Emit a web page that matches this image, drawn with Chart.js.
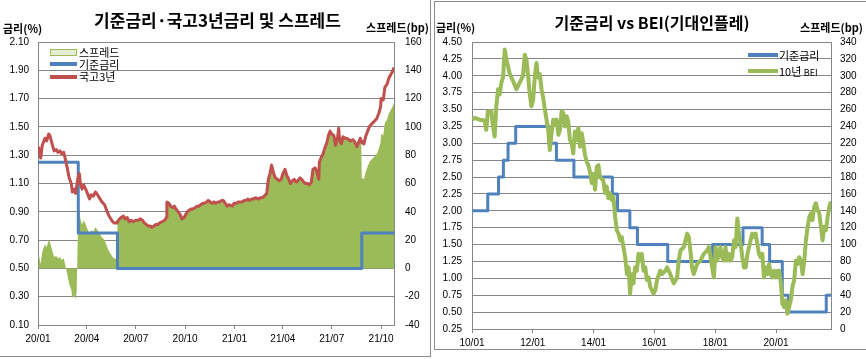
<!DOCTYPE html>
<html><head><meta charset="utf-8">
<script src="https://cdn.jsdelivr.net/npm/chart.js@4.4.0/dist/chart.umd.min.js"></script>
<style>
body{margin:0;width:866px;height:359px;position:relative;background:#fff;overflow:hidden;font-family:"Noto Sans CJK KR","Liberation Sans",sans-serif;}
.abs{position:absolute;white-space:nowrap;color:#000;}
.title{font-weight:bold;line-height:22px;}
.unit{font-weight:bold;font-size:11px;line-height:14px;}
.leg{font-size:11px;line-height:14px;}
.ln{position:absolute;background:#8c8c8c;}
canvas{position:absolute;}
</style></head><body>
<div class="ln" style="left:430px;top:0;width:1px;height:357px"></div>
<div class="ln" style="left:0;top:356px;width:431px;height:1px"></div>
<div class="ln" style="left:434px;top:1px;width:1px;height:349px"></div>
<div class="ln" style="left:434px;top:1px;width:432px;height:1px"></div>
<div class="ln" style="left:434px;top:349px;width:432px;height:1px"></div>

<canvas id="c1" width="430" height="356" style="left:0;top:0;width:430px;height:356px"></canvas>
<canvas id="c2" width="431" height="348" style="left:435px;top:1px;width:431px;height:348px"></canvas>

<div class="abs title" style="left:0;width:435px;text-align:center;top:9px;font-size:17px">기준금리·국고3년금리 및 스프레드</div>
<div class="abs unit" style="left:3px;top:21px">금리(%)</div>
<div class="abs unit" style="right:437px;top:20px">스프레드(bp)</div>

<div class="abs" style="left:50px;top:49px;width:25px;height:5px;background:#e4ecd2;border:1px solid #9BBB59"></div>
<div class="abs" style="left:50px;top:62px;width:27px;height:4px;background:#4F81BD"></div>
<div class="abs" style="left:50px;top:75px;width:27px;height:4px;background:#C0504D"></div>
<div class="abs leg" style="left:79px;top:45px">스프레드</div>
<div class="abs leg" style="left:79px;top:57px">기준금리</div>
<div class="abs leg" style="left:79px;top:69px">국고3년</div>

<div class="abs title" style="left:434px;width:436px;text-align:center;top:11px;font-size:16px">기준금리 vs BEI(기대인플레)</div>
<div class="abs unit" style="left:436px;top:20px">금리(%)</div>
<div class="abs unit" style="right:3px;top:20px">스프레드(bp)</div>
<div class="abs" style="left:748px;top:53px;width:30px;height:4px;background:#4F81BD"></div>
<div class="abs" style="left:748px;top:69px;width:30px;height:4px;background:#9BBB59"></div>
<div class="abs leg" style="left:779px;top:48px">기준금리</div>
<div class="abs leg" style="left:779px;top:64px">10년 <span style="font-size:9px">BEI</span></div>

<script>
// ===== Left chart data =====
const gov3Dates = ["2020-01-02","2020-01-06","2020-01-09","2020-01-14","2020-01-17","2020-01-21","2020-01-23","2020-01-28","2020-01-31","2020-02-04","2020-02-07","2020-02-11","2020-02-14","2020-02-18","2020-02-21","2020-02-25","2020-02-28","2020-03-03","2020-03-05","2020-03-09","2020-03-11","2020-03-13","2020-03-16","2020-03-18","2020-03-20","2020-03-23","2020-03-26","2020-03-30","2020-04-02","2020-04-06","2020-04-09","2020-04-13","2020-04-17","2020-04-21","2020-04-24","2020-04-29","2020-05-04","2020-05-07","2020-05-11","2020-05-14","2020-05-19","2020-05-22","2020-05-27","2020-05-28","2020-06-01","2020-06-04","2020-06-08","2020-06-11","2020-06-15","2020-06-19","2020-06-23","2020-06-26","2020-07-01","2020-07-06","2020-07-09","2020-07-14","2020-07-17","2020-07-21","2020-07-24","2020-07-28","2020-07-31","2020-08-04","2020-08-07","2020-08-11","2020-08-14","2020-08-19","2020-08-24","2020-08-27","2020-08-28","2020-09-01","2020-09-04","2020-09-08","2020-09-11","2020-09-14","2020-09-18","2020-09-22","2020-09-25","2020-09-29","2020-10-05","2020-10-08","2020-10-12","2020-10-15","2020-10-20","2020-10-23","2020-10-27","2020-10-30","2020-11-03","2020-11-06","2020-11-10","2020-11-13","2020-11-17","2020-11-20","2020-11-24","2020-11-27","2020-12-01","2020-12-04","2020-12-08","2020-12-11","2020-12-15","2020-12-18","2020-12-22","2020-12-28","2020-12-31","2021-01-05","2021-01-08","2021-01-12","2021-01-15","2021-01-19","2021-01-22","2021-01-26","2021-01-29","2021-02-02","2021-02-05","2021-02-09","2021-02-15","2021-02-18","2021-02-22","2021-02-25","2021-03-02","2021-03-05","2021-03-08","2021-03-11","2021-03-15","2021-03-18","2021-03-22","2021-03-25","2021-03-29","2021-04-01","2021-04-05","2021-04-08","2021-04-12","2021-04-15","2021-04-19","2021-04-22","2021-04-26","2021-04-29","2021-05-03","2021-05-06","2021-05-10","2021-05-13","2021-05-17","2021-05-20","2021-05-24","2021-05-27","2021-05-31","2021-06-03","2021-06-07","2021-06-08","2021-06-11","2021-06-15","2021-06-18","2021-06-22","2021-06-25","2021-06-28","2021-07-01","2021-07-05","2021-07-08","2021-07-12","2021-07-14","2021-07-16","2021-07-19","2021-07-22","2021-07-26","2021-07-29","2021-08-02","2021-08-05","2021-08-09","2021-08-12","2021-08-17","2021-08-20","2021-08-23","2021-08-25","2021-08-26","2021-08-30","2021-09-02","2021-09-06","2021-09-09","2021-09-13","2021-09-16","2021-09-23","2021-09-27","2021-09-30","2021-10-01","2021-10-05","2021-10-08","2021-10-12","2021-10-15","2021-10-19","2021-10-22","2021-10-25"];
const gov3 = [1.36,1.28,1.37,1.42,1.40,1.45,1.44,1.37,1.33,1.34,1.32,1.33,1.31,1.32,1.27,1.20,1.14,1.10,1.04,1.06,1.03,1.08,1.15,1.17,1.10,1.06,1.09,1.06,1.03,0.99,1.02,1.01,1.04,1.02,1.00,0.97,0.95,0.92,0.88,0.86,0.83,0.82,0.82,0.83,0.85,0.86,0.87,0.85,0.86,0.83,0.84,0.83,0.84,0.84,0.85,0.84,0.82,0.81,0.80,0.80,0.79,0.80,0.81,0.81,0.82,0.83,0.84,0.86,0.97,0.96,0.94,0.93,0.94,0.92,0.90,0.88,0.85,0.86,0.90,0.91,0.92,0.92,0.93,0.94,0.94,0.95,0.96,0.96,0.97,0.98,0.97,0.96,0.97,0.96,0.97,0.97,0.98,0.98,0.96,0.94,0.95,0.94,0.96,0.96,0.97,0.97,0.97,0.98,0.98,0.99,0.98,0.99,0.99,1.00,0.99,1.00,1.00,1.01,1.03,1.13,1.17,1.23,1.17,1.14,1.13,1.12,1.13,1.17,1.20,1.16,1.13,1.10,1.12,1.13,1.11,1.12,1.14,1.13,1.11,1.10,1.10,1.09,1.11,1.20,1.21,1.19,1.13,1.25,1.28,1.31,1.35,1.39,1.44,1.47,1.45,1.44,1.37,1.43,1.49,1.40,1.38,1.43,1.42,1.42,1.41,1.40,1.41,1.40,1.36,1.39,1.42,1.40,1.39,1.38,1.43,1.47,1.50,1.52,1.53,1.56,1.60,1.64,1.70,1.69,1.78,1.80,1.84,1.87,1.89,1.92];
const baseLDates = ["2020-01-01","2020-03-16","2020-05-28","2021-08-26","2021-10-25"];
const baseL = [1.25,0.75,0.50,0.75,0.75];
const xRangeL = ["2020-01-01","2021-10-25"];
const xTickDatesL = ["2020-01-01","2020-04-01","2020-07-01","2020-10-01","2021-01-01","2021-04-01","2021-07-01","2021-10-01"];
const xTickLabelsL = ["20/01","20/04","20/07","20/10","21/01","21/04","21/07","21/10"];
const yTicksL = [0.10,0.30,0.50,0.70,0.90,1.10,1.30,1.50,1.70,1.90,2.10];
const y1TicksL = [-40,-20,0,20,40,60,80,100,120,140,160];

// ===== Right chart data =====
const baseRDates = ["2010-01-01","2010-07-09","2010-11-16","2011-01-13","2011-03-10","2011-06-10","2012-07-12","2012-10-11","2013-05-09","2014-08-14","2014-10-15","2015-03-12","2015-06-11","2016-06-09","2017-11-30","2018-11-30","2019-07-18","2019-10-16","2020-03-16","2020-05-28","2021-08-26","2021-10-22"];
const baseR = [2.00,2.25,2.50,2.75,3.00,3.25,3.00,2.75,2.50,2.25,2.00,1.75,1.50,1.25,1.50,1.75,1.50,1.25,0.75,0.50,0.75,0.75];
const beiDates = ["2010-01-04","2010-02-03","2010-04-02","2010-06-01","2010-06-21","2010-07-11","2010-08-21","2010-09-10","2010-09-30","2010-10-20","2010-11-10","2010-11-30","2010-12-20","2011-01-09","2011-01-29","2011-02-19","2011-03-29","2011-05-08","2011-06-18","2011-07-28","2011-09-06","2011-09-27","2011-10-17","2011-11-06","2011-11-26","2011-12-16","2012-01-06","2012-01-26","2012-02-15","2012-03-05","2012-03-25","2012-04-15","2012-05-05","2012-05-25","2012-06-14","2012-07-04","2012-07-24","2012-08-14","2012-09-03","2012-09-23","2012-10-13","2012-11-03","2012-11-23","2012-12-13","2013-01-02","2013-01-22","2013-02-12","2013-03-02","2013-03-22","2013-04-11","2013-05-01","2013-05-21","2013-06-11","2013-07-01","2013-07-21","2013-08-10","2013-08-30","2013-09-20","2013-10-10","2013-10-30","2013-11-19","2013-12-09","2013-12-29","2014-01-18","2014-02-08","2014-02-28","2014-03-18","2014-04-27","2014-05-17","2014-06-07","2014-06-27","2014-07-17","2014-08-06","2014-08-26","2014-09-16","2014-10-06","2014-10-26","2014-11-16","2014-12-05","2014-12-25","2015-01-15","2015-02-05","2015-02-25","2015-03-15","2015-04-04","2015-04-24","2015-05-14","2015-06-04","2015-06-24","2015-07-14","2015-08-03","2015-08-23","2015-09-13","2015-10-03","2015-10-23","2015-11-12","2015-12-22","2016-01-12","2016-02-01","2016-03-11","2016-04-01","2016-05-11","2016-06-01","2016-07-10","2016-08-20","2016-09-30","2016-10-19","2016-11-09","2016-12-19","2017-01-08","2017-01-28","2017-02-17","2017-03-08","2017-03-28","2017-04-17","2017-05-27","2017-07-07","2017-08-16","2017-09-26","2017-10-16","2017-11-05","2017-11-25","2017-12-15","2018-01-05","2018-01-25","2018-02-14","2018-03-04","2018-03-24","2018-04-14","2018-05-04","2018-05-24","2018-06-13","2018-07-03","2018-07-23","2018-08-13","2018-09-02","2018-09-23","2018-10-12","2018-11-02","2018-11-22","2018-12-12","2019-01-02","2019-01-22","2019-02-11","2019-03-01","2019-03-21","2019-04-11","2019-05-01","2019-05-21","2019-06-10","2019-06-30","2019-07-20","2019-08-09","2019-08-29","2019-09-19","2019-10-09","2019-10-29","2019-11-18","2019-12-08","2019-12-28","2020-01-18","2020-02-08","2020-02-28","2020-03-17","2020-04-07","2020-04-27","2020-05-17","2020-06-06","2020-06-26","2020-07-16","2020-08-06","2020-08-26","2020-09-16","2020-10-05","2020-10-25","2020-11-15","2020-12-05","2020-12-25","2021-01-15","2021-02-04","2021-02-24","2021-03-14","2021-04-04","2021-04-24","2021-05-13","2021-06-03","2021-06-23","2021-07-13","2021-08-02","2021-08-22","2021-09-12","2021-10-02","2021-10-22"];
const bei = [248,250,248,247,236,258,258,240,228,264,284,278,292,298,331,319,303,294,284,292,300,325,319,300,278,264,272,300,315,298,302,284,274,260,248,236,212,232,248,242,248,230,236,258,256,240,252,246,224,220,208,234,224,238,216,232,220,206,198,194,186,173,184,165,192,194,180,176,161,169,155,161,153,157,133,117,113,105,109,97,85,65,73,42,65,54,73,69,89,81,89,69,73,58,61,50,42,46,58,69,65,69,73,65,54,61,81,93,97,105,113,109,93,73,65,77,81,89,93,97,85,73,61,97,81,89,97,85,81,97,81,89,81,85,105,97,131,113,101,85,73,73,89,97,105,113,109,113,101,89,85,89,61,73,65,77,65,61,69,61,69,69,54,30,26,34,18,26,34,50,58,81,77,85,81,65,81,105,121,133,137,129,145,149,141,137,121,105,121,117,133,145,151];
const xRangeR = ["2010-01-01","2021-10-22"];
const xTickDatesR = ["2010-01-01","2012-01-01","2014-01-01","2016-01-01","2018-01-01","2020-01-01"];
const xTickLabelsR = ["10/01","12/01","14/01","16/01","18/01","20/01"];
const yTicksR = [0.25,0.50,0.75,1.00,1.25,1.50,1.75,2.00,2.25,2.50,2.75,3.00,3.25,3.50,3.75,4.00,4.25,4.50];
const y1TicksR = [0,20,40,60,80,100,120,140,160,180,200,220,240,260,280,300,320,340];

// ===== helpers =====
const t = s => Date.parse(s);
function stepAt(dates, vals, d) {
  let v = vals[0];
  for (let i = 0; i < dates.length; i++) if (t(dates[i]) <= t(d)) v = vals[i];
  return v;
}
const pts = (ds, vs) => ds.map((d, i) => ({x: t(d), y: vs[i]}));
const spreadPts = gov3Dates.map((d, i) => ({x: t(d), y: Math.round((gov3[i] - stepAt(baseLDates, baseL, d)) * 100)}));

Chart.defaults.font.family = "'Liberation Sans','Noto Sans CJK KR',sans-serif";
Chart.defaults.font.size = 10;
Chart.defaults.color = '#000';
const GRID = '#868686';

function xScale(range, tickDates, tickLabels) {
  return {
    type: 'linear', min: t(range[0]), max: t(range[1]),
    afterBuildTicks: s => { s.ticks = tickDates.map(d => ({value: t(d)})); },
    ticks: {autoSkip: false, maxRotation: 0, padding: 4, callback: (v, i) => tickLabels[i]},
    grid: {drawOnChartArea: false, drawTicks: true, tickLength: 4, color: GRID},
    border: {color: GRID},
    afterFit: s => { s.height = 20; }
  };
}
function yScale(pos, mn, mx, ticks, fmt, pad, w, grid) {
  return {
    position: pos, min: mn, max: mx,
    afterBuildTicks: s => { s.ticks = ticks.map(v => ({value: v})); },
    ticks: {padding: pad, callback: fmt},
    grid: grid ? {color: GRID, drawTicks: false} : {display: false, drawTicks: false},
    border: {display: true, color: GRID},
    afterFit: s => { s.width = w; }
  };
}
const common = {
  responsive: false, animation: false, devicePixelRatio: 1,
  plugins: {legend: {display: false}, tooltip: {enabled: false}, title: {display: false}},
  elements: {point: {radius: 0}, line: {tension: 0, borderJoinStyle: 'round', borderCapStyle: 'butt'}}
};

new Chart(document.getElementById('c1'), {
  type: 'line',
  data: {datasets: [
    {label: '국고3년', data: pts(gov3Dates, gov3), borderColor: '#C0504D', borderWidth: 3, yAxisID: 'y', order: 0, fill: false},
    {label: '기준금리', data: pts(baseLDates, baseL), borderColor: '#4F81BD', borderWidth: 3, stepped: 'before', yAxisID: 'y', order: 1, fill: false},
    {label: '스프레드', data: spreadPts, borderColor: '#9BBB59', backgroundColor: '#9BBB59', borderWidth: 0, fill: 'origin', yAxisID: 'y1', order: 2}
  ]},
  options: Object.assign({}, common, {
    layout: {padding: {top: 42, bottom: 11, left: 0, right: 0}},
    scales: {
      x: xScale(xRangeL, xTickDatesL, xTickLabelsL),
      y: yScale('left', 0.1, 2.1, yTicksL, v => v.toFixed(2), 9, 38, true),
      y1: yScale('right', -40, 160, y1TicksL, v => String(v), 11, 36, false)
    }
  })
});

new Chart(document.getElementById('c2'), {
  type: 'line',
  data: {datasets: [
    {label: '10년 BEI', data: pts(beiDates, bei), borderColor: '#9BBB59', borderWidth: 4, yAxisID: 'y1', order: 0, fill: false},
    {label: '기준금리', data: pts(baseRDates, baseR), borderColor: '#4F81BD', borderWidth: 3, stepped: 'before', yAxisID: 'y', order: 1, fill: false}
  ]},
  options: Object.assign({}, common, {
    layout: {padding: {top: 41, bottom: 0, left: 0, right: 0}},
    scales: {
      x: xScale(xRangeR, xTickDatesR, xTickLabelsR),
      y: yScale('left', 0.25, 4.5, yTicksR, v => v.toFixed(2), 10, 37, true),
      y1: yScale('right', 0, 340, y1TicksR, v => String(v), 9, 35, false)
    }
  })
});
</script>
</body></html>
